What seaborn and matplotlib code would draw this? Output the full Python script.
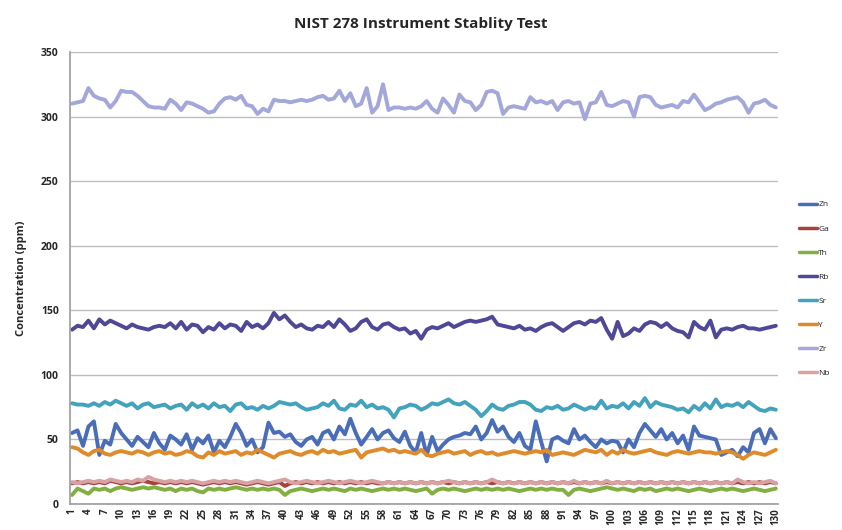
import numpy as np
import pandas as pd
import matplotlib
matplotlib.use("Agg")
import matplotlib.pyplot as plt
import seaborn as sns

title = "NIST 278 Instrument Stablity Test"
ylabel = "Concentration (ppm)"
elements = ["Zn", "Ga", "Th", "Rb", "Sr", "Y", "Zr", "Nb"]
colors = ["#4A6DB8", "#A8423F", "#82B040", "#4E4897", "#43A3BC", "#DE8B2C", "#A3A7DA", "#D9A2A2"]
run = list(range(1, 131))
xticks = list(range(1, 131, 3))

zn = [55, 57, 45, 60, 64, 38, 49, 46, 62, 55,
      50, 45, 52, 48, 44, 55, 47, 42, 53, 50,
      46, 54, 42, 51, 47, 53, 40, 49, 44, 52,
      62, 55, 45, 50, 40, 44, 63, 55, 56, 52,
      54, 48, 45, 50, 52, 46, 55, 57, 50, 60,
      54, 66, 55, 46, 52, 58, 50, 55, 57, 51,
      48, 56, 45, 40, 55, 38, 52, 41, 46, 50,
      52, 53, 55, 54, 60, 50, 55, 65, 56, 60,
      52, 48, 55, 45, 42, 64, 48, 33, 50, 52,
      49, 47, 58, 50, 53, 48, 44, 50, 47, 49,
      48, 40, 50, 44, 55, 62, 57, 52, 58, 50,
      55, 47, 53, 42, 60, 53, 52, 51, 50, 38,
      40, 42, 37, 44, 40, 55, 58, 47, 58, 51]
ga = [16, 17, 16, 17, 16, 17, 16, 18, 17, 16,
      17, 16, 17, 18, 17, 16, 17, 16, 17, 16,
      17, 16, 17, 16, 15, 16, 17, 16, 17, 16,
      17, 16, 15, 16, 17, 16, 15, 16, 17, 14,
      16, 17, 16, 17, 16, 17, 16, 17, 16, 17,
      16, 17, 16, 17, 16, 17, 16, 16, 17, 16,
      17, 16, 17, 16, 17, 16, 17, 16, 17, 16,
      17, 16, 17, 16, 17, 16, 17, 16, 17, 16,
      17, 16, 17, 16, 17, 16, 17, 16, 17, 16,
      17, 16, 17, 16, 17, 16, 17, 16, 17, 16,
      17, 16, 17, 16, 17, 16, 17, 16, 17, 16,
      17, 16, 17, 16, 17, 16, 17, 16, 17, 16,
      17, 16, 17, 16, 17, 16, 17, 16, 17, 16]
th = [7, 12, 10, 8, 12, 11, 12, 10, 12, 13,
      12, 11, 12, 13, 12, 13, 12, 11, 12, 10,
      12, 11, 12, 10, 9, 12, 11, 12, 11, 12,
      13, 12, 11, 12, 11, 12, 11, 12, 11, 7,
      10, 11, 12, 11, 10, 11, 12, 11, 12, 11,
      10, 12, 11, 12, 11, 10, 11, 12, 11, 12,
      11, 12, 11, 10, 11, 12, 8, 11, 12, 11,
      12, 11, 10, 11, 12, 11, 12, 11, 12, 11,
      12, 11, 10, 11, 12, 11, 12, 11, 12, 11,
      11, 7, 11, 12, 11, 10, 11, 12, 13, 12,
      11, 12, 11, 10, 12, 11, 12, 10, 11, 12,
      11, 12, 11, 10, 11, 12, 11, 10, 11, 12,
      11, 12, 11, 10, 11, 12, 11, 10, 11, 12]
rb = [135, 138, 137, 142, 136, 143, 139, 142, 140, 138,
      136, 139, 137, 136, 135, 137, 138, 137, 140, 136,
      141, 135, 139, 138, 133, 137, 135, 140, 136, 139,
      138, 134, 141, 137, 139, 136, 140, 148, 143, 146,
      141, 137, 139, 136, 135, 138, 137, 141, 137, 143,
      139, 134, 136, 141, 143, 137, 135, 139, 140, 137,
      135, 136, 132, 134, 128, 135, 137, 136, 138, 140,
      137, 139, 141, 142, 141, 142, 143, 145, 139, 138,
      137, 136, 138, 135, 136, 134, 137, 139, 140, 137,
      134, 137, 140, 141, 139, 142, 141, 144, 135, 128,
      141, 130, 132, 136, 134, 139, 141, 140, 137, 140,
      136, 134, 133, 129, 141, 137, 135, 142, 129, 135,
      136, 135, 137, 138, 136, 136, 135, 136, 137, 138]
sr = [78, 77, 77, 76, 78, 76, 79, 77, 80, 78,
      76, 78, 74, 77, 78, 75, 76, 77, 74, 76,
      77, 73, 78, 75, 77, 74, 78, 75, 76, 72,
      77, 78, 74, 75, 73, 76, 74, 76, 79, 78,
      77, 78, 75, 73, 74, 75, 78, 76, 80, 74,
      73, 77, 76, 80, 75, 77, 74, 75, 73, 67,
      74, 75, 77, 76, 73, 75, 78, 77, 79, 81,
      78, 77, 79, 76, 73, 68, 72, 77, 74, 73,
      76, 77, 79, 79, 77, 73, 72, 75, 74, 76,
      73, 74, 77, 75, 73, 75, 74, 80, 74, 76,
      75, 78, 74, 79, 76, 82, 75, 79, 77, 76,
      75, 73, 74, 71, 76, 73, 78, 74, 81, 75,
      77, 76, 78, 75, 79, 76, 73, 72, 74, 73]
y_el = [44, 43, 40, 38, 41, 42, 39, 38, 40, 41,
        40, 39, 41, 40, 38, 40, 41, 39, 40, 38,
        39, 41, 40, 37, 36, 40, 38, 41, 39, 40,
        41, 38, 40, 39, 42, 40, 38, 36, 39, 40,
        41, 39, 38, 40, 41, 39, 42, 40, 41, 39,
        40, 41, 42, 36, 40, 41, 42, 43, 41, 42,
        40, 41, 40, 39, 42, 38, 37, 39, 40, 41,
        39, 40, 41, 38, 40, 41, 39, 40, 38, 39,
        40, 41, 40, 39, 40, 41, 40, 42, 38, 39,
        40, 39, 38, 40, 42, 41, 40, 42, 38, 41,
        39, 42, 40, 39, 40, 41, 42, 40, 39, 38,
        40, 41, 40, 39, 40, 41, 40, 40, 39, 40,
        41, 40, 38, 35, 38, 40, 39, 38, 40, 42]
zr = [310, 311, 312, 322, 316, 314, 313, 307, 312, 320,
      319, 319, 316, 312, 308, 307, 307, 306, 313, 310,
      305, 311, 310, 308, 306, 303, 304, 310, 314, 315,
      313, 316, 309, 308, 302, 306, 304, 313, 312, 312,
      311, 312, 313, 312, 313, 315, 316, 313, 314, 320,
      312, 318, 308, 310, 322, 303, 308, 325, 305, 307,
      307, 306, 307, 306, 308, 312, 306, 303, 314, 309,
      303, 317, 312, 311, 305, 309, 319, 320, 318, 302,
      307, 308, 307, 306, 315, 311, 312, 310, 312, 305,
      311, 312, 310, 311, 298, 310, 311, 319, 309, 308,
      310, 312, 311, 300, 315, 316, 315, 309, 307, 308,
      309, 307, 312, 311, 317, 311, 305, 307, 310, 311,
      313, 314, 315, 311, 303, 310, 311, 313, 309, 307]
nb = [17, 16, 17, 18, 17, 18, 17, 19, 18, 17,
      18, 17, 19, 18, 21, 19, 18, 17, 18, 17,
      18, 17, 18, 17, 16, 17, 18, 17, 18, 17,
      18, 17, 16, 17, 18, 17, 16, 17, 18, 19,
      17, 16, 17, 18, 17, 16, 17, 18, 17, 16,
      17, 18, 17, 16, 17, 18, 17, 16, 17, 16,
      17, 16, 17, 16, 17, 16, 17, 16, 17, 18,
      17, 16, 17, 16, 17, 16, 17, 19, 17, 16,
      17, 16, 17, 16, 17, 16, 17, 16, 17, 16,
      17, 16, 18, 16, 17, 16, 17, 16, 18, 16,
      17, 16, 17, 16, 17, 16, 17, 16, 17, 16,
      17, 16, 17, 16, 17, 16, 17, 16, 17, 16,
      17, 16, 19, 17, 16, 17, 16, 17, 18, 16]

series = {"Zn": zn, "Ga": ga, "Th": th, "Rb": rb, "Sr": sr, "Y": y_el, "Zr": zr, "Nb": nb}
df = pd.concat([pd.DataFrame({"run": run, "ppm": series[e], "element": e}) for e in elements],
               ignore_index=True)

sns.set_theme(style="white")
plt.rcParams["font.family"] = ["Open Sans", "DejaVu Sans"]

fig = plt.figure(figsize=(8.42, 5.30), dpi=100)
ax = fig.add_axes([0.083, 0.049, 0.841, 0.853])

sns.lineplot(data=df, x="run", y="ppm", hue="element", hue_order=elements,
             palette=dict(zip(elements, colors)), linewidth=2.8, ax=ax, legend=False)

ax.set_ylim(0, 350)
ax.set_yticks(range(0, 351, 50))
ax.set_xlim(0.6, 130.4)
ax.set_xticks(xticks)
ax.set_xticklabels([str(v) for v in xticks], rotation=90, fontsize=7, fontweight="bold")
ax.tick_params(axis="y", labelsize=7.5, length=0, pad=8)
ax.tick_params(axis="x", length=0, pad=3)
for lab in ax.get_yticklabels():
    lab.set_fontweight("bold")
ax.yaxis.grid(True, color="#BDBDBD", linewidth=1.0)
ax.xaxis.grid(False)
ax.set_axisbelow(True)
for s in ["top", "right"]:
    ax.spines[s].set_visible(False)
ax.spines["left"].set_color("#A0A0A0")
ax.spines["bottom"].set_color("#A0A0A0")
ax.set_xlabel("")
ax.set_ylabel(ylabel, fontsize=8, fontweight="bold", labelpad=10)
fig.text(0.5, 0.955, title, ha="center", va="center", fontsize=11, fontweight="bold")

from matplotlib.lines import Line2D
handles = [Line2D([0], [0], color=c, linewidth=2.5) for c in colors]
fig.legend(handles, elements, loc="center left", bbox_to_anchor=(0.945, 0.455),
           frameon=False, fontsize=6, handlelength=2.2, handletextpad=0.1,
           labelspacing=1.95, borderaxespad=0)

fig.savefig("out.png", dpi=100)
